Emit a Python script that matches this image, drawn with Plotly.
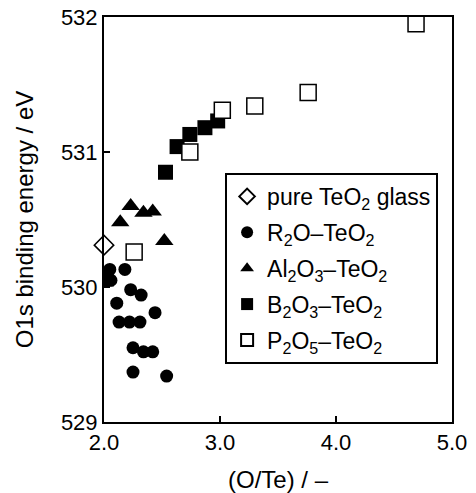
import plotly.graph_objects as go

pure_x = [2.0]
pure_y = [530.31]

r2o_x = [2.05, 2.18, 2.06, 2.23, 2.32, 2.11, 2.44, 2.13, 2.22, 2.31, 2.25, 2.34, 2.42, 2.25, 2.54]
r2o_y = [530.13, 530.13, 530.05, 529.98, 529.94, 529.88, 529.81, 529.74, 529.74, 529.74,
         529.55, 529.52, 529.52, 529.37, 529.34]

al_x = [2.14, 2.23, 2.34, 2.42, 2.52]
al_y = [530.48, 530.60, 530.55, 530.56, 530.34]

b_x = [2.02, 2.53, 2.63, 2.74, 2.87, 2.98]
b_y = [530.06, 530.85, 531.04, 531.13, 531.18, 531.23]

p_x = [2.26, 2.74, 3.02, 3.30, 3.76, 4.69]
p_y = [530.26, 531.00, 531.31, 531.34, 531.44, 531.95]

x_ticks = [2.0, 3.0, 4.0, 5.0]
y_ticks = [529, 530, 531, 532]

FONT = "Liberation Sans, Arial, sans-serif"

fig = go.Figure()
fig.add_trace(go.Scatter(x=pure_x, y=pure_y, mode="markers", name="pure TeO<sub>2</sub> glass",
                         legendgroup="a", cliponaxis=False,
                         marker=dict(symbol="diamond-open", size=15, color="black", line=dict(width=1.5))))
fig.add_trace(go.Scatter(x=r2o_x, y=r2o_y, mode="markers", name="R<sub>2</sub>O–TeO<sub>2</sub>",
                         legendgroup="b",
                         marker=dict(symbol="circle", size=13, color="black")))
fig.add_trace(go.Scatter(x=al_x, y=al_y, mode="markers", name="Al<sub>2</sub>O<sub>3</sub>–TeO<sub>2</sub>",
                         legendgroup="c",
                         marker=dict(symbol="triangle-up", size=16, color="black")))
fig.add_trace(go.Scatter(x=b_x, y=b_y, mode="markers", name="B<sub>2</sub>O<sub>3</sub>–TeO<sub>2</sub>",
                         legendgroup="d",
                         marker=dict(symbol="square", size=15, color="black")))
fig.add_trace(go.Scatter(x=p_x, y=p_y, mode="markers", name="P<sub>2</sub>O<sub>5</sub>–TeO<sub>2</sub>",
                         legendgroup="e",
                         marker=dict(symbol="square", size=16, color="white",
                                     line=dict(color="black", width=1.5))))

fig.update_layout(
    width=476, height=493,
    margin=dict(l=104, r=24, t=17, b=71),
    paper_bgcolor="white", plot_bgcolor="white",
    font=dict(family=FONT, size=21, color="black"),
    showlegend=True,
    legend=dict(x=0.348, y=0.615, xanchor="left", yanchor="top",
                bordercolor="black", borderwidth=2, bgcolor="white",
                font=dict(size=23), traceorder="grouped", tracegroupgap=3,
                itemsizing="constant"),
    xaxis=dict(range=[2.0, 5.0], tickvals=x_ticks, ticktext=[f"{v:.1f}" for v in x_ticks],
               ticks="inside", ticklen=6, tickwidth=1.5, tickcolor="black",
               showline=True, linecolor="black", linewidth=2, mirror=True,
               showgrid=False, zeroline=False, automargin=False,
               ticklabeloverflow="allow",
               tickfont=dict(size=22),
               title=dict(text="(O/Te) / –", standoff=22, font=dict(size=24))),
    yaxis=dict(range=[529, 532], tickvals=y_ticks,
               ticks="inside", ticklen=6, tickwidth=1.5, tickcolor="black",
               showline=True, linecolor="black", linewidth=2, mirror=True,
               showgrid=False, zeroline=False, automargin=False,
               ticklabeloverflow="allow",
               tickfont=dict(size=22),
               title=dict(text="O1s binding energy / eV", standoff=20, font=dict(size=24))),
)

fig.write_html("out.html", config={"displayModeBar": False},
               post_script="document.body.style.margin='0';")
